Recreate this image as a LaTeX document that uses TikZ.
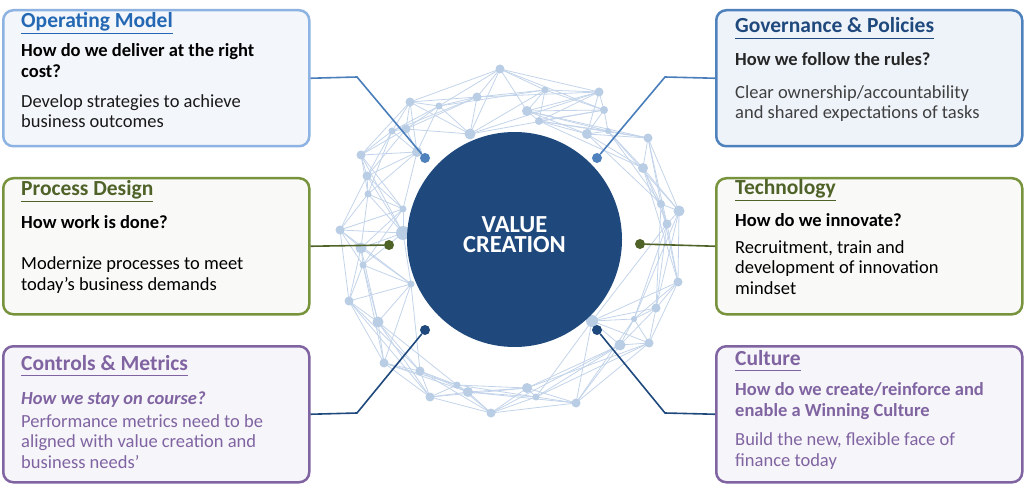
\documentclass[tikz,border=0pt]{standalone}
\usepackage{fontspec}
\setmainfont{Carlito}

\definecolor{navy}{HTML}{1F497D}
\definecolor{netblue}{HTML}{C3D4EA}
\definecolor{netdot}{HTML}{B9CDE5}
\definecolor{omblue}{HTML}{8DB3E2}
\definecolor{omfill}{HTML}{F3F6FB}
\definecolor{omtitle}{HTML}{2468B4}
\definecolor{gpblue}{HTML}{4F81BD}
\definecolor{gpfill}{HTML}{EEF3FA}
\definecolor{olive}{HTML}{77933C}
\definecolor{darkolive}{HTML}{4F6228}
\definecolor{pdfill}{HTML}{F9F9F7}
\definecolor{lilac}{HTML}{8064A2}
\definecolor{cmfill}{HTML}{F6F5F9}
\definecolor{linkblue}{HTML}{4A7EBB}

\newcommand\ttlline[1]{\underline{#1\vphantom{g}}}

\begin{document}
\begin{tikzpicture}[x=1pt,y=-1pt,
	box/.style={draw,rounded corners=10pt,line width=2.5pt,minimum width=306pt,minimum height=136pt,anchor=north west,inner sep=0pt},
	ttl/.style={anchor=base west,inner sep=0pt,font=\fontsize{21.5}{24}\selectfont\bfseries},
	txt/.style={anchor=base west,inner sep=0pt,align=left,font=\fontsize{18.5}{20.3}\selectfont},
	net/.style={draw=netblue,line width=0.8pt},
	link/.style={line width=1.6pt},
	knob/.style={circle,inner sep=0pt,minimum size=10pt}]
	\useasboundingbox (0,0) rectangle (1024,486);

	% network behind the circle
	\def\netpts{500/69/4.5, 545/90/3.5, 599/92/4.5, 604/110/4, 527/111/5, 539/121/4, 587/134/5, 608/131/3,
		648/138/4.5, 643/168/5, 661/204/4, 679/211/5.5, 667/224/4.5, 678/282/4.5, 656/308/4.5, 634/319/3,
		592/321/6, 649/343/4.5, 620/345/5.5, 576/403/4.5, 536/397/3.5, 527/388/5, 491/413/4.5, 468/392/5,
		457/385/3.5, 430/397/4.5, 420/371/4.5, 384/363/4.5, 378/322/5.5, 349/301/4.5, 411/284/3.5, 363/265/3.5,
		361/248/5.5, 340/230/4.5, 403/233/7, 403/209/3.5, 368/194/3.5, 367/176/4.5, 361/155/4.5, 417/152/5,
		392/131/3.5, 406/129/4.5, 410/102/4.5, 439/106/3.5, 477/97/4.5, 470/134/5.5}
	\foreach \x/\y/\r [count=\i] in \netpts
		\coordinate (n\i) at (\x,\y);
	\foreach \i in {1,...,46}
		\foreach \k in {1,2,3,4}{
			\pgfmathtruncatemacro\j{mod(\i+\k-1,46)+1}
			\draw[net] (n\i) -- (n\j);
		}
	\foreach \x/\y/\r [count=\i] in \netpts
		\fill[netdot] (n\i) circle (\r);

	\node[circle,fill=navy,minimum size=215pt,inner sep=0pt,align=center,text=white,
		font=\fontsize{24.5}{20}\selectfont\bfseries] (vc) at (514.5,239.5) {VALUE\\CREATION\rule[-9pt]{0pt}{0pt}};

	% boxes
	\node[box,draw=omblue,fill=omfill] (om) at (2,9) {};
	\node[ttl,text=omtitle] (omt) at (21,28) {\ttlline{Operating Model}};
	\node[txt,font=\fontsize{18.5}{21}\selectfont\bfseries] (omq) at (21,78) {How do we deliver at the right\\cost?};
	\node[txt,text=black!90] (omb) at (21,128) {Develop strategies to achieve\\business outcomes};

	\node[box,draw=gpblue,fill=gpfill] (gp) at (715,9) {};
	\node[ttl,text=navy] (gpt) at (735,33) {\ttlline{Governance \& Policies}};
	\node[txt,text=black!85,font=\fontsize{18.5}{20.5}\selectfont\bfseries] (gpq) at (735,66) {How we follow the rules?};
	\node[txt,text=black!75] (gpb) at (735,119) {Clear ownership/accountability\\and shared expectations of tasks};

	\node[box,draw=olive,fill=pdfill] (pd) at (2,177) {};
	\node[ttl,text=darkolive] (pdt) at (21,196) {\ttlline{Process Design}};
	\node[txt,font=\fontsize{18.5}{20.5}\selectfont\bfseries] (pdq) at (21,229) {How work is done?};
	\node[txt] (pdb) at (21,290) {Modernize processes to meet\\today’s business demands};

	\node[box,draw=olive,fill=pdfill] (te) at (715,177) {};
	\node[ttl,text=darkolive] (tet) at (735,195) {\ttlline{Technology}};
	\node[txt,font=\fontsize{18.5}{20.5}\selectfont\bfseries] (teq) at (735,226) {How do we innovate?};
	\node[txt] (teb) at (735,294) {Recruitment, train and\\development of innovation\\mindset};

	\node[box,draw=lilac,fill=cmfill] (cm) at (2,345) {};
	\node[ttl,text=lilac] (cmt) at (21,370) {\ttlline{Controls \& Metrics}};
	\node[txt,text=lilac,font=\fontsize{18.5}{20.5}\selectfont\bfseries\itshape] (cmq) at (21,404) {How we stay on course?};
	\node[txt,text=lilac] (cmb) at (21,468) {Performance metrics need to be\\aligned with value creation and\\business needs’};

	\node[box,draw=lilac,fill=cmfill] (cu) at (715,345) {};
	\node[ttl,text=lilac] (cut) at (735,365) {\ttlline{Culture}};
	\node[txt,text=lilac,font=\fontsize{18.5}{20.5}\selectfont\bfseries] (cuq) at (735,416) {How do we create/reinforce and\\enable a Winning Culture};
	\node[txt,text=lilac] (cub) at (735,466) {Build the new, flexible face of\\finance today};

	% connectors
	\node[knob,fill=gpblue] (omk) at (425,158) {};
	\node[knob,fill=gpblue] (gpk) at (597,158) {};
	\node[knob,fill=darkolive] (pdk) at (389,245) {};
	\node[knob,fill=darkolive] (tek) at (640,244) {};
	\node[knob,fill=navy] (cmk) at (425,330) {};
	\node[knob,fill=navy] (cuk) at (597,330) {};
	\coordinate (ombend) at (357,77);
	\coordinate (gpbend) at (665,77);
	\coordinate (cmbend) at (357,413);
	\coordinate (cubend) at (665,413);

	\draw[link,linkblue] (om.east) -- (ombend) -- (omk);
	\draw[link,linkblue] (gp.west) -- (gpbend) -- (gpk);
	\draw[link,darkolive] (pd.east) -- (pdk);
	\draw[link,darkolive] (te.west) -- (tek);
	\draw[link,navy] (cm.east) -- (cmbend) -- (cmk);
	\draw[link,navy] (cu.west) -- (cubend) -- (cuk);
\end{tikzpicture}
\end{document}
